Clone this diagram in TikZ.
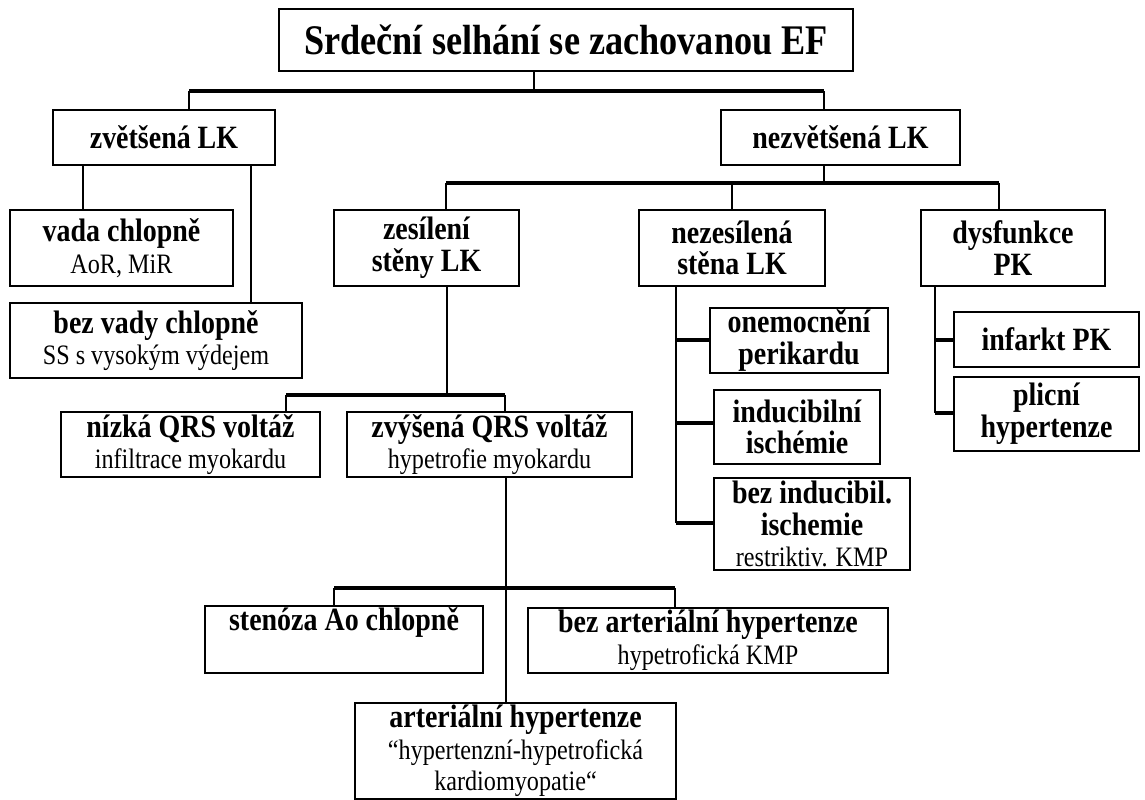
\documentclass[tikz,border=0pt]{standalone}
\usepackage{fontspec}
\setmainfont[FakeStretch=0.86]{Liberation Serif}
\usetikzlibrary{positioning}

\tikzset{
  box/.style={rectangle,draw,line width=1.2pt,align=center,inner sep=1pt,
    font=\fontsize{18.5}{18}\selectfont\bfseries},
  wire/.style={line width=1.1pt},
  bus/.style={line width=2pt}
}
\newcommand{\sublabel}[1]{{\fontsize{16}{16}\selectfont\mdseries #1}}

\begin{document}
\begin{tikzpicture}[x=0.02cm,y=-0.02cm]

    \useasboundingbox (0,0) rectangle (1145,800);

    % boxes
    \node(root) [box,minimum width=11.48cm,minimum height=1.24cm,
      font=\fontsize{24}{24}\selectfont\bfseries] at (566,40) {Srdeční selhání se zachovanou EF};

    \node(big) [box,minimum width=4.44cm,minimum height=1.1cm] at (164,137.5) {zvětšená LK};
    \node(small) [box,minimum width=4.78cm,minimum height=1.1cm] at (840.5,137.5) {nezvětšená LK};

    \node(valve) [box,minimum width=4.46cm,minimum height=1.52cm] at (121.5,248) {
      vada chlopně\\ \sublabel{AoR, MiR}};
    \node(novalve) [box,minimum width=5.84cm,minimum height=1.5cm] at (156,340.5) {
      bez vady chlopně\\ \sublabel{SS s vysokým výdejem}};

    \node(thick) [box,minimum width=3.7cm,minimum height=1.52cm] at (426.5,248) {
      zesílení\\ stěny LK};
    \node(thin) [box,minimum width=3.72cm,minimum height=1.52cm] at (732,248) {
      nezesílená\\ stěna LK};
    \node(rv) [box,minimum width=3.68cm,minimum height=1.52cm] at (1013,248) {
      dysfunkce\\ PK};

    \node(peri) [box,minimum width=3.56cm,minimum height=1.3cm] at (799,340.5) {
      onemocnění\\ perikardu};
    \node(isch) [box,minimum width=3.32cm,minimum height=1.48cm] at (797,427) {
      inducibilní\\ ischémie};
    \node(noisch) [box,minimum width=3.92cm,minimum height=1.84cm] at (812,524) {
      bez inducibil.\\ ischemie\\ \sublabel{restriktiv. KMP}};

    \node(infarct) [box,minimum width=3.7cm,minimum height=1.1cm] at (1046.5,339.5) {infarkt PK};
    \node(pulm) [box,minimum width=3.7cm,minimum height=1.48cm] at (1046.5,414) {
      plicní\\ hypertenze};

    \node(lowqrs) [box,minimum width=5.18cm,minimum height=1.3cm] at (190.5,444.5) {
      nízká QRS voltáž\\ \sublabel{infiltrace myokardu}};
    \node(highqrs) [box,minimum width=5.7cm,minimum height=1.3cm] at (489.5,444.5) {
      zvýšená QRS voltáž\\ \sublabel{hypetrofie myokardu}};

    \node(stenosis) [box,minimum width=5.56cm,minimum height=1.3cm] at (344,639.5) {
      stenóza Ao chlopně\\ \strut};
    \node(noaht) [box,minimum width=7.2cm,minimum height=1.3cm] at (708,640.5) {
      bez arteriální hypertenze\\ \sublabel{hypetrofická KMP}};
    \node(aht) [box,minimum width=6.42cm,minimum height=1.68cm] at (515.5,751) {
      arteriální hypertenze\\ \sublabel{``hypertenzní-hypetrofická}\\ \sublabel{kardiomyopatie``}};

    % junctions
    \coordinate (j0) at (534,91);
    \coordinate (j0l) at (189,91);
    \coordinate (j0r) at (824,91);
    \coordinate (j1) at (824,183);
    \coordinate (j1l) at (446,183);
    \coordinate (j1m) at (732,183);
    \coordinate (j1r) at (999,183);
    \coordinate (j2) at (447,395);
    \coordinate (j2l) at (286,395);
    \coordinate (j2r) at (505,395);
    \coordinate (j3) at (506,588);
    \coordinate (j3l) at (334,588);
    \coordinate (j3r) at (675,588);

    % connectors
    \draw[wire] (j0 |- root.south) -- (j0);
    \draw[bus] (j0l) -- (j0r);
    \draw[wire] (j0l) -- (j0l |- big.north);
    \draw[wire] (j0r) -- (j0r |- small.north);

    \draw[wire] (83,165) -- (83,210);
    \draw[wire] (251,165) -- (251,303);

    \draw[wire] (j1 |- small.south) -- (j1);
    \draw[bus] (j1l) -- (j1r);
    \draw[wire] (j1l) -- (j1l |- thick.north);
    \draw[wire] (j1m) -- (j1m |- thin.north);
    \draw[wire] (j1r) -- (j1r |- rv.north);

    \draw[wire] (676,286) -- (676,523);
    \draw[bus] (676,340) -- (peri.west |- 676,340);
    \draw[bus] (676,423) -- (isch.west |- 676,423);
    \draw[bus] (676,523) -- (noisch.west |- 676,523);

    \draw[wire] (935,286) -- (935,413);
    \draw[bus] (935,340) -- (infarct.west |- 935,340);
    \draw[bus] (935,413) -- (pulm.west |- 935,413);

    \draw[wire] (j2 |- thick.south) -- (j2);
    \draw[bus] (j2l) -- (j2r);
    \draw[wire] (j2l) -- (j2l |- lowqrs.north);
    \draw[wire] (j2r) -- (j2r |- highqrs.north);

    \draw[wire] (j3 |- highqrs.south) -- (j3 |- aht.north);
    \draw[bus] (j3l) -- (j3r);
    \draw[wire] (j3l) -- (j3l |- stenosis.north);
    \draw[wire] (j3r) -- (j3r |- noaht.north);

  \end{tikzpicture}
\end{document}
